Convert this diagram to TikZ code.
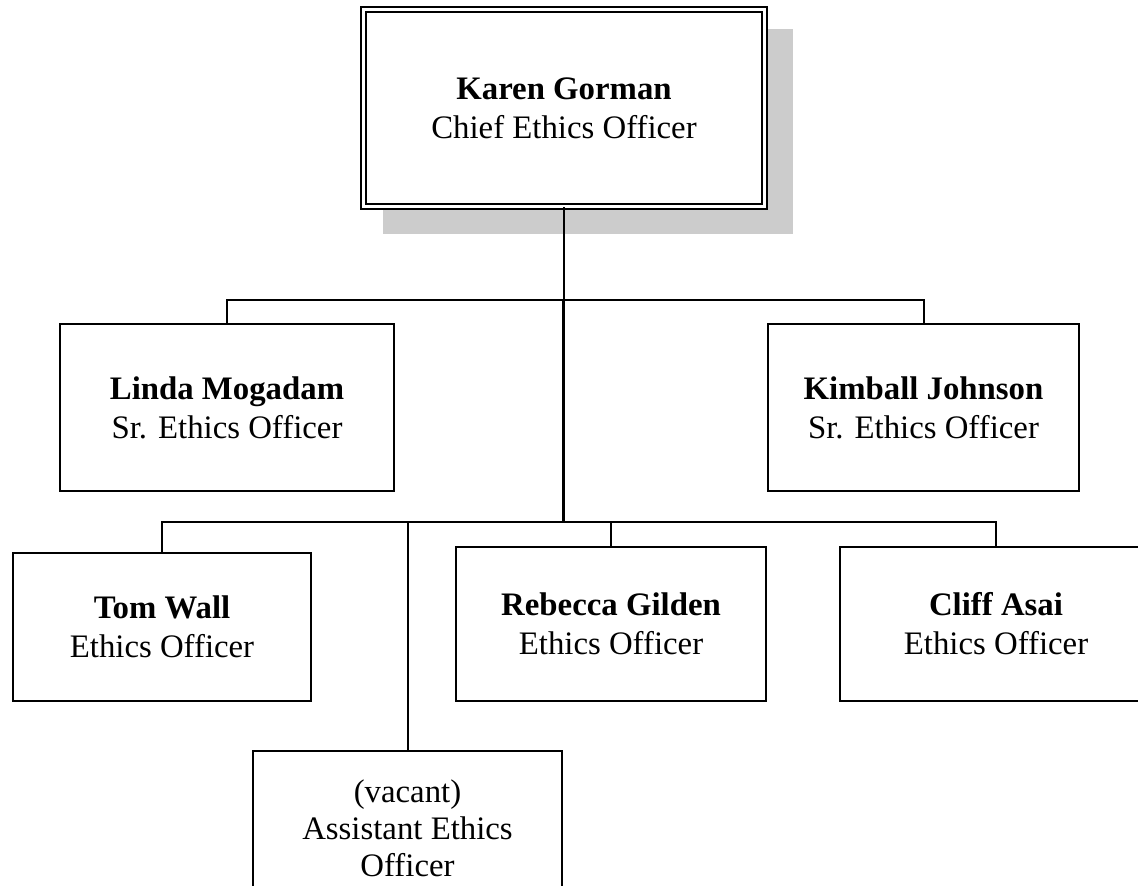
\documentclass[tikz,border=0pt]{standalone}
\usepackage{fontspec}
\setmainfont{Liberation Serif}
\definecolor{shadowgray}{RGB}{204,204,204}

\tikzset{
	box/.style={draw, fill=white, line width=1pt, inner sep=0pt, align=center},
	chiefbox/.style={box, double, double distance=1.5pt},
	link/.style={line width=1pt},
}

\begin{document}
\begin{tikzpicture}[x=0.5pt, y=-0.5pt, style={font=\fontsize{16.4}{19.5}\selectfont}]
	\useasboundingbox (0,0) rectangle (1138,886);
	\clip (0,0) rectangle (1138,886);
	\fill[shadowgray] (383,29) rectangle (793,234);
	\node[chiefbox, minimum width=200.5pt, minimum height=98.5pt] (ceo) at (564,108) {\textbf{Karen Gorman}\\Chief Ethics Officer};
	\node[box, minimum width=167pt, minimum height=83.5pt] (sr1) at (227,407.5) {\textbf{Linda Mogadam}\\Sr. Ethics Officer};
	\node[box, minimum width=155.5pt, minimum height=83.5pt] (sr2) at (923.5,407.5) {\textbf{Kimball Johnson}\\Sr. Ethics Officer};
	\node[box, minimum width=149pt, minimum height=74pt] (eo1) at (162,627) {\textbf{Tom Wall}\\Ethics Officer};
	\node[box, minimum width=155pt, minimum height=77pt] (eo2) at (611,624) {\textbf{Rebecca Gilden}\\Ethics Officer};
	\node[box, minimum width=156pt, minimum height=77pt] (eo3) at (996,624) {\textbf{Cliff Asai}\\Ethics Officer};
	\node[box, minimum width=154.5pt, minimum height=77pt, font=\fontsize{16.4}{18.5}\selectfont] (aeo) at (407.5,828) {(vacant)\\Assistant Ethics\\Officer};
	\coordinate (bus1) at (563,300);
	\coordinate (bus2) at (563,522);
	\draw[link] (ceo.south) -- (ceo.south |- bus1);
	\draw[link, line width=1.5pt] (bus1) -- (bus2);
	\draw[link] (sr1.north) -- (sr1.north |- bus1) -- (sr2.north |- bus1) -- (sr2.north);
	\draw[link] (eo1.north) -- (eo1.north |- bus2) -- (eo3.north |- bus2) -- (eo3.north);
	\draw[link] (eo2.north) -- (eo2.north |- bus2);
	\draw[link] (aeo.north) -- (aeo.north |- bus2);
\end{tikzpicture}
\end{document}
